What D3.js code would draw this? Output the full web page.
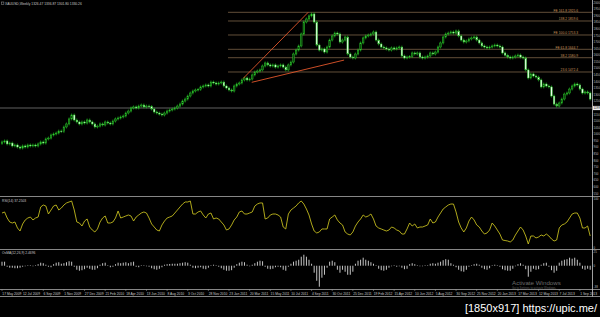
<!DOCTYPE html>
<html>
<head>
<meta charset="utf-8">
<script src="https://cdnjs.cloudflare.com/ajax/libs/d3/7.8.5/d3.min.js"></script>
<style>
    body { margin: 0; background: #000; }
    svg { display: block; }
    text { font-family: "Liberation Sans", Arial, sans-serif; }
</style>
</head>
<body>
<script>
//XAUUSD weekly chart, May 2009 - Sep 2013, drawn with D3

//weekly closes (open = previous close)
var firstOpen = 930;
var closes = [
    941, 949, 926, 933, 911, 918, 903, 895, 911, 903,
    918, 911, 918, 911, 926, 941, 933, 964, 971, 994,
    1002, 1009, 1024, 1020, 1055, 1078, 1116, 1146, 1108, 1093,
    1078, 1093, 1085, 1108, 1093, 1078, 1055, 1062, 1078, 1070,
    1093, 1085, 1078, 1100, 1116, 1123, 1131, 1138, 1161, 1176,
    1199, 1207, 1199, 1214, 1222, 1207, 1214, 1210, 1191, 1169,
    1161, 1153, 1146, 1161, 1176, 1184,
    1191, 1199, 1214, 1229, 1252,
    1267, 1290, 1313, 1328, 1336, 1340, 1359, 1366, 1374, 1366,
    1396, 1389, 1381, 1389, 1396, 1366, 1351, 1336, 1328, 1366,
    1381, 1389, 1412, 1427, 1412, 1419, 1450, 1472, 1480, 1488,
    1518, 1541, 1526, 1518, 1526, 1510, 1518, 1526, 1510, 1488,
    1526, 1548, 1609, 1639, 1670, 1761, 1852, 1875, 1898, 1913,
    1852, 1677, 1639, 1647, 1624, 1662, 1715, 1746, 1768, 1761,
    1700, 1715, 1738, 1609, 1586, 1579, 1609, 1639, 1693, 1731,
    1746, 1753, 1761, 1776, 1715, 1685, 1662, 1655, 1647, 1639,
    1655, 1647, 1655, 1662, 1594, 1579, 1586, 1590, 1617, 1609,
    1617, 1586, 1579, 1586, 1594, 1617, 1609, 1624, 1662, 1693,
    1738, 1761, 1768, 1776, 1768, 1784, 1746, 1715, 1700, 1708,
    1723, 1731, 1738, 1715, 1693, 1670, 1662, 1655, 1662, 1670,
    1677, 1670, 1662, 1617, 1600,
    1586, 1579, 1586, 1594, 1601, 1586,
    1579, 1488, 1427, 1457, 1442, 1434, 1412, 1359, 1381, 1366,
    1359, 1290, 1229, 1214, 1237, 1267, 1305, 1313, 1343, 1366,
    1381, 1374, 1343, 1313, 1321, 1313, 1267
];

//RSI(14) per week
var rsiValues = [
    69.2, 71.2, 59.6, 51.9, 50.0, 51.9, 40.4, 34.6, 48.1, 55.8,
    59.6, 61.5, 55.8, 59.6, 61.5, 80.8, 84.6, 82.7, 67.3, 75.0,
    82.7, 84.6, 75.0, 78.8, 84.6, 88.5, 90.4, 92.3, 75.0, 51.9,
    50.0, 44.2, 53.8, 57.7, 42.3, 36.5, 32.7, 38.5, 51.9, 59.6,
    63.5, 50.0, 50.0, 51.9, 59.6, 73.1, 59.6, 61.5, 63.5, 65.4,
    63.5, 53.8, 61.5, 65.4, 69.2, 71.2, 69.2, 59.6, 48.1, 42.3,
    36.5, 34.6, 46.2, 53.8, 59.6, 61.5,
    63.5, 69.2, 75.0, 80.8, 86.5,
    90.4, 90.4, 92.3, 67.3, 67.3, 71.2, 73.1, 65.4, 59.6, 67.3,
    69.2, 57.7, 59.6, 57.7, 51.9, 46.2, 36.5, 38.5, 46.2, 55.8,
    61.5, 71.2, 73.1, 67.3, 67.3, 69.2, 71.2, 82.7, 86.5, 88.5,
    88.5, 57.7, 59.6, 65.4, 67.3, 67.3, 65.4, 61.5, 42.3, 38.5,
    67.3, 75.0, 78.8, 82.7, 88.5, 92.3, 86.5, 76.9, 65.4, 48.1,
    34.6, 30.8, 32.7, 38.5, 38.5, 38.5, 57.7, 61.5, 65.4, 55.8,
    50.0, 46.2, 32.7, 28.8, 26.9, 32.7, 44.2, 51.9, 57.7, 65.4,
    61.5, 63.5, 67.3, 57.7, 44.2, 40.4, 38.5, 36.5, 34.6, 36.5,
    42.3, 40.4, 36.5, 34.6, 28.8, 28.8, 38.5, 50.0, 44.2, 48.1,
    40.4, 42.3, 42.3, 44.2, 46.2, 57.7, 50.0, 51.9, 61.5, 69.2,
    76.9, 80.8, 84.6, 86.5, 86.5, 71.2, 51.9, 40.4, 32.7, 40.4,
    53.8, 61.5, 55.8, 46.2, 42.3, 34.6, 28.8, 30.8, 36.5, 50.0,
    44.2, 36.5, 28.8, 17.3, 16.3,
    15.4, 13.5, 17.3, 26.9, 34.6, 42.3,
    36.5, 25.0, 9.6, 25.0, 25.0, 21.2, 23.1, 26.9, 25.0, 28.8,
    25.0, 19.2, 15.4, 17.3, 40.4, 46.2, 48.1, 51.9, 59.6, 67.3,
    69.2, 69.2, 59.6, 40.4, 40.4, 44.2, 25.0
];

//OsMA(12,26,9) histogram per week
var osmaValues = [
    6.9, 6.9, -1.7, -3.4, -3.4, -4.3, -4.3, -3.4, -1.7, -0.9,
    0.9, 0.9, -0.9, 0.9, 2.6, 5.2, 4.3, 1.7, -1.7, -2.6,
    2.6, 5.2, 6.0, 3.4, 4.3, 6.0, 7.7, 6.9, -1.7, -6.9,
    -8.6, -7.7, -6.0, -3.4, -5.2, -6.9, -6.9, -4.3, 1.7, 4.3,
    5.2, 0.9, -2.6, -1.7, 2.6, 5.2, 4.3, 5.2, 6.0, 4.3,
    6.0, 6.9, -1.7, -2.6, 0.9, 0.9, -0.9, -1.7, -4.3, -6.0,
    -6.9, -5.2, -2.6, 1.7, 2.6, 3.0,
    3.4, 3.4, 3.4, 4.3, 5.2,
    6.0, 5.2, 1.7, -3.4, -4.3, -3.4, -2.6, -5.2, -6.0, -3.4,
    0.9, 1.7, 0.9, -1.7, -4.3, -6.9, -8.6, -8.6, -7.7, -3.4,
    2.6, 5.2, 6.9, 6.0, 1.7, -0.9, 1.7, 4.3, 6.9, 8.6,
    7.7, -1.7, -5.2, -6.0, -5.2, -2.6, -1.7, -2.6, -6.9, -8.6,
    -1.7, 3.4, 6.9, 8.6, 10.3, 15.5, 18.9, 15.5, 10.3, 3.4,
    -12.0, -25.8, -36.1, -20.6, -15.5, -3.4, 6.9, 8.6, 6.0, -6.9,
    -12.0, -6.9, -10.3, -15.5, -15.5, -10.3, 3.4, 8.6, 10.3, 13.8,
    10.3, 8.6, 6.0, 3.4, 0.9, -5.2, -7.7, -8.6, -6.9, -3.4,
    -0.9, 0.9, -1.7, -0.9, -3.4, -6.0, -5.2, 2.6, 4.3, 2.6,
    0.9, -0.9, -0.9, 0.9, 0.9, 3.4, 4.3, 3.4, 5.2, 6.9,
    9.5, 11.2, 10.3, 4.3, 1.7, -2.6, -6.9, -9.5, -10.3, -6.9,
    -1.7, 0.9, 2.6, 3.4, 1.7, -3.4, -6.0, -6.9, -4.3, 0.9,
    1.7, 0.9, -1.7, -6.0, -7.7,
    -8.6, -8.6, -5.2, -0.9, 2.6, 4.3,
    1.7, -6.0, -18.9, -10.3, -5.2, -6.9, -6.0, 1.7, 4.3, 5.2,
    -1.7, -7.7, -12.0, -8.6, 5.2, 8.6, 10.3, 11.2, 13.8, 12.0,
    13.8, 10.3, 5.2, -5.2, -6.9, -5.2, -6.9
];

//time axis labels (week index of each label)
var dateTicks = [0, 8, 16, 24, 32, 40, 48, 56, 64, 72, 80, 88, 96, 104, 112,
    120, 128, 136, 144, 152, 160, 168, 176, 184, 192, 200, 208, 216, 224];
var dateLabels = ["17 May 2009", "12 Jul 2009", "6 Sep 2009", "1 Nov 2009", "27 Dec 2009",
    "21 Feb 2010", "18 Apr 2010", "13 Jun 2010", "8 Aug 2010", "3 Oct 2010", "28 Nov 2010",
    "23 Jan 2011", "20 Mar 2011", "15 May 2011", "10 Jul 2011", "4 Sep 2011", "30 Oct 2011",
    "25 Dec 2011", "19 Feb 2012", "15 Apr 2012", "10 Jun 2012", "5 Aug 2012", "30 Sep 2012",
    "25 Nov 2012", "20 Jan 2013", "17 Mar 2013", "12 May 2013", "7 Jul 2013", "1 Sep 2013"];

//drawn objects: fibo levels, trend lines [week, price], horizontal line
var fiboStart = 87.6;
var fiboLevels = [1925.6, 1859.6, 1753.3, 1644.7, 1580.9, 1472.4];
var fiboNames = ["FE 161.8", "138.2", "FE 100.0", "FE 61.8", "38.2", "23.6"];
var upperTrend = [[93.5, 1424], [118.7, 1926]];
var lowerTrend = [[96.8, 1394], [132.6, 1563]];
var hLinePrice = 1199;

var rsiTicks = [100, 0];
var osmaTicks = [25, 0, -38];

var titleText = "XAUUSD,Weekly  1326.47 1336.87 1301.80 1330.26";
var rsiTitle = "RSI(14) 37.2503";
var osmaTitle = "OsMA(12,26,9) 2.4696";

//frame
var width = 600,
    height = 317,
    axisX = 592.5;

var svg = d3.select("body")
    .append("svg")
    .attr("width", width)
    .attr("height", height);

svg.append("rect")
    .attr("width", width)
    .attr("height", height)
    .attr("fill", "#000");

svg.append("clipPath")
    .attr("id", "mainClip")
    .append("rect")
    .attr("x", 0).attr("y", 0)
    .attr("width", axisX).attr("height", 196);

//scales
var x = d3.scaleLinear()
    .domain([0, closes.length - 1])
    .range([2, 590.2]);

var yPrice = d3.scaleLinear()
    .domain([531, 2019])
    .range([196, 0]);

var yRsi = d3.scaleLinear()
    .domain([0, 100])
    .range([249, 197]);

var yOsma = d3.scaleLinear()
    .domain([-40, 27])
    .range([289, 250]);

//pane separators and price axis line
var sepLines = [196.5, 249.5, 289.5, 296.5];
svg.selectAll(".sep")
    .data(sepLines)
    .enter()
    .append("line")
    .attr("class", "sep")
    .attr("x1", 0).attr("x2", width)
    .attr("y1", function(d){ return d; })
    .attr("y2", function(d){ return d; })
    .attr("stroke", "#a8a8a8")
    .attr("stroke-width", 0.8);

svg.append("line")
    .attr("x1", axisX).attr("x2", axisX)
    .attr("y1", 0).attr("y2", 296.5)
    .attr("stroke", "#c8c8c8")
    .attr("stroke-width", 0.8);

var main = svg.append("g").attr("clip-path", "url(#mainClip)");

//horizontal line
main.append("line")
    .attr("x1", 0).attr("x2", axisX)
    .attr("y1", yPrice(hLinePrice)).attr("y2", yPrice(hLinePrice))
    .attr("stroke", "#8a8a8a")
    .attr("stroke-width", 0.7);

//fibo levels and their labels
main.selectAll(".fibo")
    .data(fiboLevels)
    .enter()
    .append("line")
    .attr("class", "fibo")
    .attr("x1", x(fiboStart)).attr("x2", axisX)
    .attr("y1", function(d){ return yPrice(d); })
    .attr("y2", function(d){ return yPrice(d); })
    .attr("stroke", "#8c7052")
    .attr("stroke-width", 0.7);

main.selectAll(".fiboLabel")
    .data(fiboLevels)
    .enter()
    .append("text")
    .attr("class", "fiboLabel")
    .attr("x", 578)
    .attr("y", function(d){ return yPrice(d) - 0.6; })
    .attr("text-anchor", "end")
    .attr("font-size", 3.3)
    .attr("fill", "#c8965a")
    .text(function(d, i){ return fiboNames[i] + " " + d.toFixed(1); });

//candles
var bars = closes.map(function(c, i){
    return {i: i, open: i == 0 ? firstOpen : closes[i - 1], close: c};
});

main.selectAll(".wick")
    .data(bars)
    .enter()
    .append("line")
    .attr("class", "wick")
    .attr("x1", function(d){ return x(d.i); })
    .attr("x2", function(d){ return x(d.i); })
    .attr("y1", function(d){ return yPrice(Math.max(d.open, d.close)) - 1.5; })
    .attr("y2", function(d){ return yPrice(Math.min(d.open, d.close)) + 1.5; })
    .attr("stroke", "#22c222")
    .attr("stroke-width", 0.6);

main.selectAll(".candle")
    .data(bars)
    .enter()
    .append("rect")
    .attr("class", "candle")
    .attr("x", function(d){ return x(d.i) - 0.8; })
    .attr("width", 1.6)
    .attr("y", function(d){ return yPrice(Math.max(d.open, d.close)); })
    .attr("height", function(d){
        return Math.max(0.6, Math.abs(yPrice(d.open) - yPrice(d.close)));
    })
    .attr("fill", function(d){ return d.close >= d.open ? "#0c4a0c" : "#eaffea"; })
    .attr("stroke", "#2fd02f")
    .attr("stroke-width", 0.45);

//trend lines
main.selectAll(".trend")
    .data([upperTrend, lowerTrend])
    .enter()
    .append("line")
    .attr("class", "trend")
    .attr("x1", function(d){ return x(d[0][0]); })
    .attr("y1", function(d){ return yPrice(d[0][1]); })
    .attr("x2", function(d){ return x(d[1][0]); })
    .attr("y2", function(d){ return yPrice(d[1][1]); })
    .attr("stroke", "#e2572b")
    .attr("stroke-width", 0.9);

//price axis labels (short, so they fit the narrow axis strip)
svg.selectAll(".priceTick")
    .data(yPrice.ticks(30).filter(function(t){ return yPrice(t) > 2 && yPrice(t) < 195; }))
    .enter()
    .append("text")
    .attr("class", "priceTick")
    .attr("x", 593.6)
    .attr("y", function(d){ return yPrice(d) + 1.1; })
    .attr("font-size", 2.9)
    .attr("fill", "#bdbdbd")
    .text(function(d){ return d3.format("d")(d); });

//marker of the horizontal line on the axis
svg.append("rect")
    .attr("x", axisX + 0.5).attr("y", yPrice(hLinePrice) - 2.1)
    .attr("width", 7).attr("height", 4.2)
    .attr("fill", "#f0f0f0");
svg.append("text")
    .attr("x", 593.6).attr("y", yPrice(hLinePrice) + 1.1)
    .attr("font-size", 2.9)
    .attr("fill", "#000")
    .text(d3.format("d")(hLinePrice));

//RSI line
var rsiLine = d3.line()
    .x(function(d, i){ return x(i); })
    .y(function(d){ return yRsi(d); });

svg.append("path")
    .datum(rsiValues)
    .attr("d", rsiLine)
    .attr("fill", "none")
    .attr("stroke", "#cdc520")
    .attr("stroke-width", 0.85);

svg.selectAll(".rsiTick")
    .data(rsiTicks)
    .enter()
    .append("text")
    .attr("class", "rsiTick")
    .attr("x", 593.6)
    .attr("y", function(d){ return yRsi(d) + (d == 100 ? 3 : -0.5); })
    .attr("font-size", 2.9)
    .attr("fill", "#bdbdbd")
    .text(function(d){ return d; });

//OsMA histogram
svg.selectAll(".osma")
    .data(osmaValues)
    .enter()
    .append("rect")
    .attr("class", "osma")
    .attr("x", function(d, i){ return x(i) - 0.5; })
    .attr("width", 1)
    .attr("y", function(d){ return yOsma(Math.max(0, d)); })
    .attr("height", function(d){ return Math.abs(yOsma(d) - yOsma(0)); })
    .attr("fill", "#c4c4c4");

svg.selectAll(".osmaTick")
    .data(osmaTicks)
    .enter()
    .append("text")
    .attr("class", "osmaTick")
    .attr("x", 593.6)
    .attr("y", function(d){ return Math.min(288, Math.max(253, yOsma(d) + 1.1)); })
    .attr("font-size", 2.9)
    .attr("fill", "#bdbdbd")
    .text(function(d){ return d; });

//time axis
svg.selectAll(".dateTick")
    .data(dateTicks)
    .enter()
    .append("line")
    .attr("class", "dateTick")
    .attr("x1", function(d){ return x(d); })
    .attr("x2", function(d){ return x(d); })
    .attr("y1", 289.5).attr("y2", 291)
    .attr("stroke", "#a8a8a8")
    .attr("stroke-width", 0.5);

svg.selectAll(".dateLabel")
    .data(dateTicks)
    .enter()
    .append("text")
    .attr("class", "dateLabel")
    .attr("x", function(d){ return x(d) + 0.3; })
    .attr("y", 294.6)
    .attr("font-size", 3.3)
    .attr("fill", "#c8c8c8")
    .text(function(d, i){ return dateLabels[i]; });

//pane titles
svg.append("rect")
    .attr("x", 1.5).attr("y", 2).attr("width", 2.4).attr("height", 2.4)
    .attr("fill", "none").attr("stroke", "#bdbdbd").attr("stroke-width", 0.4);
svg.append("text")
    .attr("x", 5).attr("y", 4.6)
    .attr("font-size", 3.3)
    .attr("fill", "#c8c8c8")
    .text(titleText);

svg.append("text")
    .attr("x", 2).attr("y", 201.5)
    .attr("font-size", 3.3)
    .attr("fill", "#c8c8c8")
    .text(rsiTitle);

svg.append("text")
    .attr("x", 2).attr("y", 253.8)
    .attr("font-size", 3.3)
    .attr("fill", "#c8c8c8")
    .text(osmaTitle);

//screenshot overlays
svg.append("text")
    .attr("x", 512).attr("y", 284.5)
    .attr("font-size", 6.2)
    .attr("fill", "#6c6c6c")
    .text("Activate Windows");
svg.append("text")
    .attr("x", 512).attr("y", 288.6)
    .attr("font-size", 2.8)
    .attr("fill", "#5a5a5a")
    .text("Go to Settings to activate Windows.");

svg.append("text")
    .attr("x", 597).attr("y", 312)
    .attr("text-anchor", "end")
    .attr("font-family", "DejaVu Sans Mono, monospace")
    .attr("font-size", 11)
    .attr("fill", "#ffffff")
    .text("[1850x917] https://upic.me/");
</script>
</body>
</html>
